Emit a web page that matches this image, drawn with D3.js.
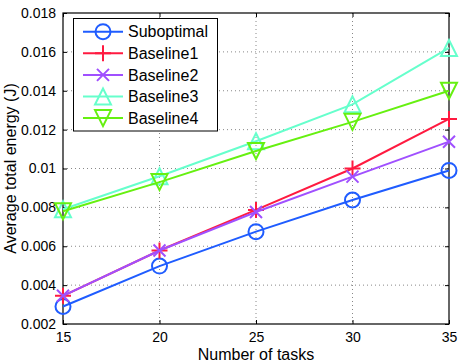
<!DOCTYPE html>
<html><head><meta charset="utf-8">
<script src="https://cdn.jsdelivr.net/npm/d3@7"></script>
<style>body{margin:0;background:#fff}svg{display:block}text{font-family:"Liberation Sans",Arial,sans-serif;fill:#000}</style>
</head><body><svg id="c" width="462" height="362"></svg>
<script>
const tasks = [15, 20, 25, 30, 35];
const suboptimal = [0.0029, 0.00498, 0.00675, 0.00838, 0.0099];
const baseline1 = [0.00345, 0.00578, 0.00787, 0.0100, 0.01255];
const baseline2 = [0.00345, 0.00578, 0.00776, 0.00958, 0.01138];
const baseline3 = [0.0079, 0.0096, 0.0114, 0.0133, 0.0162];
const baseline4 = [0.0078, 0.0093, 0.0109, 0.0124, 0.0140];
const seriesNames = ["Suboptimal", "Baseline1", "Baseline2", "Baseline3", "Baseline4"];
const xTicks = [15, 20, 25, 30, 35];
const yTicks = [0.002, 0.004, 0.006, 0.008, 0.01, 0.012, 0.014, 0.016, 0.018];
const yTickLabels = ["0.002","0.004","0.006","0.008","0.01","0.012","0.014","0.016","0.018"];

const colors = ["#1f5cff", "#ff1a40", "#a050ff", "#66ffcc", "#66f010"];
const markers = ["circle", "plus", "cross", "tri-up", "tri-down"];
const seriesVals = [suboptimal, baseline1, baseline2, baseline3, baseline4];

const L = 63, R = 449, T = 13, B = 324;
const svg = d3.select("#c");
const x = d3.scaleLinear().domain([15, 35]).range([L, R]);
const y = d3.scaleLinear().domain([0.002, 0.018]).range([B, T]);

const g = svg.append("g");
g.selectAll(".gx").data(xTicks.slice(1, -1)).enter().append("line")
  .attr("x1", d => x(d)).attr("x2", d => x(d)).attr("y1", T).attr("y2", B)
  .attr("stroke", "#888").attr("stroke-width", 1).attr("stroke-dasharray", "1,3");
g.selectAll(".gy").data(yTicks.slice(1, -1)).enter().append("line")
  .attr("y1", d => y(d)).attr("y2", d => y(d)).attr("x1", L).attr("x2", R)
  .attr("stroke", "#888").attr("stroke-width", 1).attr("stroke-dasharray", "1,3");

const xAx = svg.append("g").attr("transform", `translate(0,${B})`)
  .call(d3.axisBottom(x).tickValues(xTicks).tickSizeInner(-4).tickSizeOuter(0).tickPadding(8));
const xAxT = svg.append("g").attr("transform", `translate(0,${T})`)
  .call(d3.axisTop(x).tickValues(xTicks).tickSizeInner(-4).tickSizeOuter(0).tickFormat(""));
const yAx = svg.append("g").attr("transform", `translate(${L},0)`)
  .call(d3.axisLeft(y).tickValues(yTicks).tickSizeInner(-4).tickSizeOuter(0).tickPadding(7)
    .tickFormat((d, i) => yTickLabels[i]));
const yAxR = svg.append("g").attr("transform", `translate(${R},0)`)
  .call(d3.axisRight(y).tickValues(yTicks).tickSizeInner(-4).tickSizeOuter(0).tickFormat(""));
[xAx, xAxT, yAx, yAxR].forEach(a => {
  a.select(".domain").remove();
  a.selectAll("line").attr("stroke", "#000");
  a.selectAll("text").style("font-size", "14px").attr("fill", "#000")
    .style("font-family", "Liberation Sans, Arial, sans-serif");
});
svg.append("rect").attr("x", L).attr("y", T).attr("width", R - L).attr("height", B - T)
  .attr("fill", "none").attr("stroke", "#000").attr("stroke-width", 1.2);

function marker(sel, type, color) {
  const s = 8;
  if (type === "circle") sel.append("circle").attr("r", 7.5);
  else if (type === "plus") sel.append("path").attr("d", `M${-s},0H${s}M0,${-s}V${s}`);
  else if (type === "cross") sel.append("path").attr("d", `M${-6},${-6}L6,6M${-6},6L6,${-6}`);
  else if (type === "tri-up") sel.append("path").attr("d", `M0,${-s}L${s},${s}L${-s},${s}Z`);
  else if (type === "tri-down") sel.append("path").attr("d", `M0,${s}L${s},${-s}L${-s},${-s}Z`);
  sel.selectAll("*").attr("fill", "none").attr("stroke", color).attr("stroke-width", 2);
}

const line = d3.line().x((d, i) => x(tasks[i])).y(d => y(d));
seriesVals.forEach((vals, k) => {
  svg.append("path").datum(vals).attr("d", line).attr("fill", "none")
    .attr("stroke", colors[k]).attr("stroke-width", 2);
  vals.forEach((v, i) => {
    const m = svg.append("g").attr("transform", `translate(${x(tasks[i])},${y(v)})`);
    marker(m, markers[k], colors[k]);
  });
});

const lg = svg.append("g");
lg.append("rect").attr("x", 73.5).attr("y", 18.5).attr("width", 144).attr("height", 112.5)
  .attr("fill", "#fff").attr("stroke", "#000").attr("stroke-width", 1);
seriesNames.forEach((n, k) => {
  const yy = 31.7 + k * 21.6;
  lg.append("line").attr("x1", 83).attr("x2", 123).attr("y1", yy).attr("y2", yy)
    .attr("stroke", colors[k]).attr("stroke-width", 2);
  const m = lg.append("g").attr("transform", `translate(103,${yy})`);
  marker(m, markers[k], colors[k]);
  lg.append("text").attr("x", 128).attr("y", yy).attr("dy", "0.36em")
    .style("font-size", "16px").text(n);
});

svg.append("text").attr("x", (L + R) / 2).attr("y", 360).attr("text-anchor", "middle")
  .style("font-size", "16px").text("Number of tasks");
svg.append("text").attr("transform", `translate(16,${(T + B) / 2}) rotate(-90)`)
  .attr("text-anchor", "middle").style("font-size", "16px").text("Average total energy (J)");
</script></body></html>
